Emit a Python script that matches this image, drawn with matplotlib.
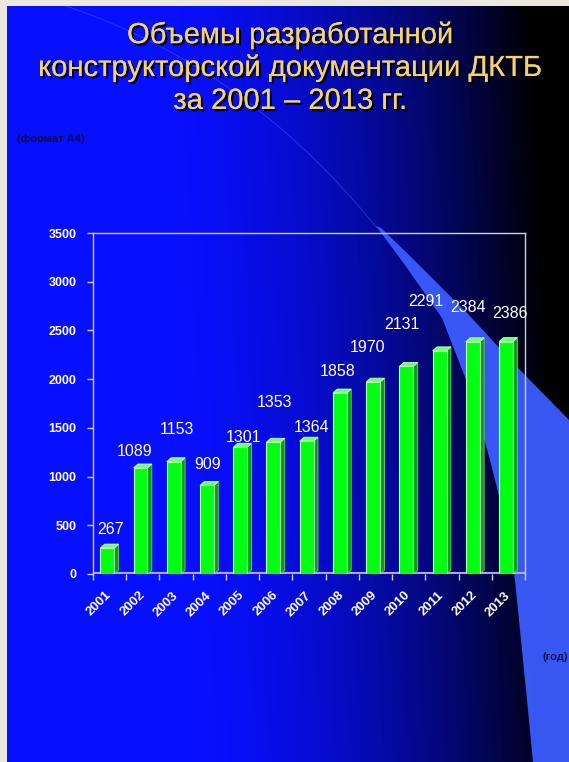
import numpy as np
import matplotlib
matplotlib.use("Agg")
import matplotlib.pyplot as plt
import matplotlib.patheffects as pe
from matplotlib.patches import Polygon, Rectangle, PathPatch
from matplotlib.path import Path

plt.rcParams['font.family'] = ['Liberation Sans', 'DejaVu Sans']

# data
years = ['2001', '2002', '2003', '2004', '2005', '2006', '2007',
         '2008', '2009', '2010', '2011', '2012', '2013']
volumes = [267, 1089, 1153, 909, 1301, 1353, 1364, 1858, 1970, 2131, 2291, 2384, 2386]
yticks = [0, 500, 1000, 1500, 2000, 2500, 3000, 3500]
title = "Объемы разработанной\nконструкторской документации ДКТБ\nза 2001 – 2013 гг."

# where the value labels sit (label centre in value units, x shift in bar widths)
label_y = [454, 1260, 1487, 1125, 1404, 1765, 1507, 2075, 2323, 2560, 2798, 2736, 2674]
label_dx = [0.03, -0.24, 0.03, -0.06, 0.03, -0.03, 0.09, -0.15, -0.24, -0.21, -0.48, -0.21, 0.06]

W, H = 569, 762
fig = plt.figure(figsize=(W / 100, H / 100), dpi=100)

# background: blue -> black gradient, pale blue streak, beige margins
bg = fig.add_axes([0, 0, 1, 1])
bg.set_xlim(0, W)
bg.set_ylim(H, 0)
bg.axis('off')
xx, yy = np.meshgrid(np.arange(W), np.arange(H))
f = np.clip((xx - 170 + 0.05 * (400 - yy)) / 380.0, 0, 1)
fade = 1 - f ** 1.6
img = np.zeros((H, W, 3))
img[..., 0] = 0.03 * fade
img[..., 1] = 0.06 * fade
img[..., 2] = 1.0 * fade
bg.imshow(img, extent=(0, W, H, 0), aspect='auto', zorder=0)

# faint thin curve leading into the streak
bg.add_patch(PathPatch(Path([(60, 4), (200, 50), (300, 133), (377, 228)],
                            [Path.MOVETO, Path.CURVE4, Path.CURVE4, Path.CURVE4]),
                       fill=False, ec='#6080ff', lw=0.8, alpha=0.3, zorder=1))
left_edge = [(533, 762), (528, 710), (522, 650), (515, 580), (505, 520),
             (490, 460), (472, 395), (442, 318), (405, 265), (376, 226)]
right_edge = [(381, 228), (412, 258), (467, 313), (517, 367), (569, 420), (569, 762)]
bg.add_patch(Polygon(left_edge + right_edge, closed=True, fc='#3c5cff', ec='none',
                     alpha=0.95, zorder=1))
bg.add_patch(Rectangle((0, 0), 7, H, fc='#ebe8df', ec='none', zorder=2))
bg.add_patch(Rectangle((0, 0), W, 6, fc='#ebe8df', ec='none', zorder=2))

bg.text(290, 68, title, ha='center', va='center', fontsize=21, color='#f3d36b',
        linespacing=1.22, zorder=3,
        path_effects=[pe.withSimplePatchShadow(offset=(1.6, -1.6), shadow_rgbFace='#000000', alpha=0.9),
                      pe.Normal()])
bg.text(17, 139, "(формат А4)", fontsize=8, color='#0a0a50', fontweight='bold',
        va='center', zorder=3)
bg.text(543, 657, "(год)", fontsize=8, color='#15154a', fontweight='bold', va='center', zorder=3)

# chart
ax = fig.add_axes([93 / W, (H - 574) / H, 432 / W, (574 - 233) / H])
ax.patch.set_alpha(0)
x = np.arange(len(years))
ax.set_xlim(-0.5, len(years) - 0.5)
ax.set_ylim(0, 3500)

bw = 0.42
shift = -0.07
dx = 0.13
dy = 40
ax.bar(x + shift, volumes, width=bw, color='#00ff10', edgecolor='#b8ffb8', linewidth=0.8, zorder=3)
for xi, v in zip(x, volumes):
    l = xi + shift - bw / 2
    r = xi + shift + bw / 2
    ax.add_patch(Polygon([(r, 0), (r + dx, dy), (r + dx, v + dy), (r, v)],
                         closed=True, fc='#00a010', ec='#70d070', lw=0.6, zorder=2))
    ax.add_patch(Polygon([(l, v), (l + dx, v + dy), (r + dx, v + dy), (r, v)],
                         closed=True, fc='#70ff70', ec='#c8ffc8', lw=0.6, zorder=3))

for xi, v, ly, ldx in zip(x, volumes, label_y, label_dx):
    ax.text(xi + ldx, ly, str(v), ha='center', va='center', color='white', fontsize=11.5, zorder=5)

# floor of the 3d chart
ax.axhline(0, color='#b0a6e6', lw=3, zorder=1)

for side in ['left', 'top', 'right']:
    ax.spines[side].set_color('#d0d0e8')
    ax.spines[side].set_linewidth(1)
ax.spines['bottom'].set_visible(False)

ax.set_yticks(yticks)
ax.set_yticklabels([str(v) for v in yticks])
ax.tick_params(axis='y', colors='#d0d0e8', labelcolor='white', length=4, width=1, pad=8)
for lab in ax.get_yticklabels():
    lab.set_fontsize(9)
    lab.set_fontweight('bold')

ax.set_xticks(x)
ax.set_xticklabels(years, rotation=45, ha='right', va='center', rotation_mode='anchor')
ax.tick_params(axis='x', which='major', length=0, pad=14, labelcolor='white')
ax.set_xticks(np.arange(len(years) + 1) - 0.5, minor=True)
ax.tick_params(axis='x', which='minor', length=4, width=1, color='#d0d0e8')
for lab in ax.get_xticklabels():
    lab.set_fontsize(9.5)
    lab.set_fontweight('bold')

fig.savefig('out.png', dpi=100)
